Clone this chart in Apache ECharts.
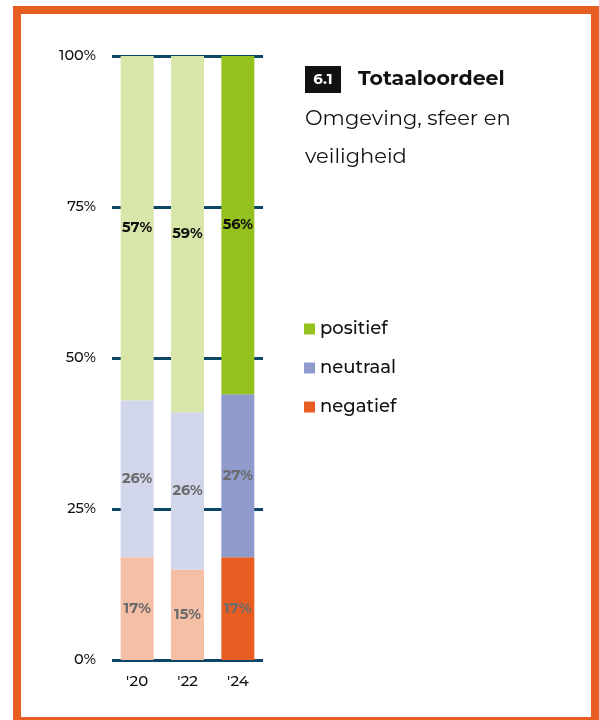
<!DOCTYPE html>
<html>
<head>
<meta charset="utf-8">
<script src="https://cdn.jsdelivr.net/npm/echarts@6/dist/echarts.min.js"></script>
<style>
  html, body { margin: 0; padding: 0; background: #fff; }
  #chart { width: 599px; height: 720px; }
</style>
</head>
<body>
<div id="chart"></div>
<script>
const years = ["'20", "'22", "'24"]
const negatief = [17, 15, 17]
const neutraal = [26, 26, 27]
const positief = [57, 59, 56]
const yTicks = [0, 25, 50, 75, 100]

const font = 'Montserrat, Inter, "Noto Sans", sans-serif'
const gridColor = '#0c4767'

// kleuren: oude jaren vervaagd, laatste jaar vol
const colors = {
  positief: { full: '#95c11f', pale: '#d8e6a9' },
  neutraal: { full: '#8e9bcc', pale: '#d1d6ea' },
  negatief: { full: '#e85d22', pale: '#f5bfa5' }
}

function makeSeries(name, values, labelColor) {
  const c = colors[name]
  return {
    name,
    type: 'bar',
    stack: 'totaal',
    barWidth: 33,
    itemStyle: { color: c.full },
    label: {
      show: true,
      position: 'inside',
      formatter: '{c}%',
      color: labelColor,
      textBorderWidth: 0,
      fontFamily: font,
      fontWeight: 'bold',
      fontSize: 14.5
    },
    data: values.map((v, i) => ({
      value: v,
      itemStyle: { color: i === values.length - 1 ? c.full : c.pale }
    }))
  }
}

const chart = echarts.init(document.getElementById('chart'))
chart.setOption({
  animation: false,
  textStyle: { fontFamily: font },
  grid: { left: 112, right: 336, top: 56, bottom: 60 },
  legend: {
    orient: 'vertical',
    left: 304,
    top: 320,
    padding: 0,
    itemWidth: 11,
    itemHeight: 11,
    itemGap: 21,
    icon: 'rect',
    selectedMode: false,
    data: ['positief', 'neutraal', 'negatief'],
    textStyle: { fontFamily: font, fontSize: 18, fontWeight: 500, color: '#111' }
  },
  xAxis: {
    type: 'category',
    data: years,
    axisLine: { show: false },
    axisTick: { show: false },
    axisLabel: { color: '#111', fontSize: 15, fontWeight: 500, margin: 14, fontFamily: font }
  },
  yAxis: {
    type: 'value',
    min: yTicks[0],
    max: yTicks[yTicks.length - 1],
    interval: 25,
    axisLine: { show: false },
    axisTick: { show: false },
    axisLabel: { color: '#111', fontSize: 14.5, fontWeight: 500, margin: 16, formatter: '{value}%', fontFamily: font },
    splitLine: { lineStyle: { color: gridColor, width: 3 } }
  },
  series: [
    makeSeries('negatief', negatief, '#6b6b6b'),
    makeSeries('neutraal', neutraal, '#6b6b6b'),
    makeSeries('positief', positief, '#111')
  ],
  graphic: [
    {
      type: 'rect',
      shape: { x: 17, y: 10, width: 578, height: 711 },
      style: { fill: null, stroke: '#e85d22', lineWidth: 8 },
      silent: true
    },
    {
      type: 'rect',
      shape: { x: 305, y: 66, width: 36, height: 27 },
      style: { fill: '#111' }
    },
    {
      type: 'text',
      x: 323, y: 80,
      style: { text: '6.1', fill: '#fff', font: 'bold 15px ' + font, align: 'center', verticalAlign: 'middle' }
    },
    {
      type: 'text',
      x: 358, y: 79,
      style: { text: 'Totaaloordeel', fill: '#111', font: 'bold 20.5px ' + font, verticalAlign: 'middle' }
    },
    {
      type: 'text',
      x: 305, y: 119,
      style: { text: 'Omgeving, sfeer en', fill: '#111', font: '21px ' + font, verticalAlign: 'middle' }
    },
    {
      type: 'text',
      x: 305, y: 157,
      style: { text: 'veiligheid', fill: '#111', font: '21px ' + font, verticalAlign: 'middle' }
    }
  ]
})
</script>
</body>
</html>
